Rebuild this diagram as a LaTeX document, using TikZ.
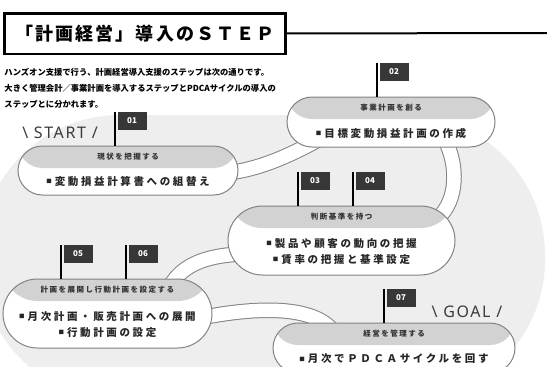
\documentclass[tikz,border=0pt]{standalone}
\usepackage{fontspec}
\setmainfont{Noto Sans CJK JP}
\newfontfamily\jpbody[LetterSpace=25]{Noto Sans CJK JP}
\newfontfamily\jphead[LetterSpace=20]{Noto Sans CJK JP}
\newfontfamily\jptitle[LetterSpace=12]{Noto Sans CJK JP}
\newfontfamily\latin[LetterSpace=10]{Noto Sans}
\usetikzlibrary{positioning}
\definecolor{blobg}{RGB}{238,238,238}
\definecolor{headg}{RGB}{210,210,210}
\definecolor{lineg}{RGB}{130,130,130}
\definecolor{flagg}{RGB}{55,55,55}
\definecolor{labelg}{RGB}{60,60,60}
\newcommand{\sqm}{\raisebox{1.6pt}{\fontsize{5.5}{5.5}\selectfont ■}\hspace{3pt}}
\pgfdeclarelayer{blob}
\pgfdeclarelayer{roads}
\pgfsetlayers{blob,roads,main}

\begin{document}
\begin{tikzpicture}[x=1pt,y=-1pt,% pixel grid, y pointing down
    every node/.style={inner sep=0pt,outer sep=0pt},
    pill/.style={draw=lineg,line width=1pt,fill=white,rounded corners=#1,
      path picture={\fill[headg] (path picture bounding box.north west)
        rectangle ([yshift=-22pt]path picture bounding box.north east);}},
    hd/.style={font=\jphead\bfseries\fontsize{7.5}{8}\selectfont,text=black!80},
    bd/.style={align=center,font=\jpbody\bfseries\fontsize{10.5}{16}\selectfont,text=black!85},
    road/.style={draw=lineg,line width=1pt,double=white,double distance=13.5pt},
    flag/.style={fill=flagg,text=white,minimum width=29pt,minimum height=18pt,
      xshift=2.5pt,font=\bfseries\fontsize{8}{8}\selectfont},
    pole/.style={draw=black,line width=2.5pt},
    tag/.style={font=\latin\bfseries\fontsize{16}{16}\selectfont,text=labelg}
  ]
  \useasboundingbox (0,0) rectangle (547,367);

  % light backdrop
  \begin{pgfonlayer}{blob}
    \fill[blobg,rounded corners=140pt] (-20,115) rectangle (545,400);
  \end{pgfonlayer}

  % title
  \node[draw=black,line width=2.5pt,minimum width=281pt,minimum height=40.5pt,
    font=\jptitle\bfseries\fontsize{18}{18}\selectfont] (T) at (145,33.5) {「計画経営」導入のＳＴＥＰ};
  \coordinate (TE) at (547,33);
  \draw[line width=2pt] (T.east) -- (TE);
  \node[align=left,font=\bfseries\fontsize{8.3}{16}\selectfont,
    below=14.5pt of T.south west,anchor=north west] (I) {%
    ハンズオン支援で行う、計画経営導入支援のステップは次の通りです。\\
    大きく管理会計／事業計画を導入するステップとPDCAサイクルの導入の\\
    ステップとに分かれます。};

  % steps
  \node[pill=24.5pt,minimum width=220pt,minimum height=49pt] (S01) at (128,170.5) {};
  \node[pill=25pt,minimum width=208pt,minimum height=50pt] (S02) at (391,122) {};
  \node[pill=34.5pt,minimum width=227pt,minimum height=69pt] (S34) at (341.5,240.5) {};
  \node[pill=34.5pt,minimum width=209pt,minimum height=69pt] (S56) at (107.5,313.5) {};
  \node[pill=25pt,minimum width=242pt,minimum height=50pt] (S07) at (394,348) {};

  \node[hd] (H01) at ([yshift=-11pt]S01.north) {現状を把握する};
  \node[bd] (B01) at ([yshift=-11pt]S01.center) {\sqm 変動損益計算書への組替え};
  \node[hd] (H02) at ([yshift=-11pt]S02.north) {事業計画を創る};
  \node[bd] (B02) at ([yshift=-11pt]S02.center) {\sqm 目標変動損益計画の作成};
  \node[hd] (H34) at ([yshift=-11pt]S34.north) {判断基準を持つ};
  \node[bd] (B34) at ([yshift=-11pt]S34.center) {\sqm 製品や顧客の動向の把握\\\sqm 賃率の把握と基準設定};
  \node[hd] (H56) at ([yshift=-11pt]S56.north) {計画を展開し行動計画を設定する};
  \node[bd] (B56) at ([yshift=-11pt]S56.center) {\sqm 月次計画・販売計画への展開\\\sqm 行動計画の設定};
  \node[hd] (H07) at ([yshift=-11pt]S07.north) {経営を管理する};
  \node[bd] (B07) at ([yshift=-11pt]S07.center) {\sqm 月次でＰＤＣＡサイクルを回す};

  % roads between steps
  \begin{pgfonlayer}{roads}
    \draw[road] ([xshift=-10pt,yshift=-2.5pt]S01.east) .. controls +(30,-4) and +(-33,18) .. ([xshift=-73pt,yshift=7pt]S02.south);
    \draw[road] ([xshift=54pt,yshift=7pt]S02.south) .. controls +(13,25) and +(20,-18) .. ([xshift=96.5pt,yshift=-12pt]S34.north);
    \draw[road] ([xshift=12pt,yshift=-13.5pt]S34.west) .. controls +(-35,2) and +(12,-25) .. ([xshift=60.5pt,yshift=-11pt]S56.north);
    \draw[road] ([xshift=-12pt,yshift=-4.5pt]S56.east) .. controls +(40,-8) and +(-21,-35) .. ([xshift=-58pt,yshift=-12pt]S07.north);
  \end{pgfonlayer}

  % flags
  \foreach \p/\dx/\n in {S01/-13/01,S02/-14/02,S34/-43.5/03,S34/11.5/04,S56/-46.5/05,S56/18.5/06,S07/-10/07}{
    \node[flag,anchor=north west] (F\n) at ([xshift=\dx pt,yshift=34pt]\p.north) {\n};
    \draw[pole] ([xshift=-2.5pt]F\n.north west) -- ([xshift=\dx pt]\p.north);
  }

  \node[tag] (ST) at (60,133) {\textbackslash\ START /};
  \node[tag] (GL) at (467,312) {\textbackslash\ GOAL /};
\end{tikzpicture}
\end{document}
